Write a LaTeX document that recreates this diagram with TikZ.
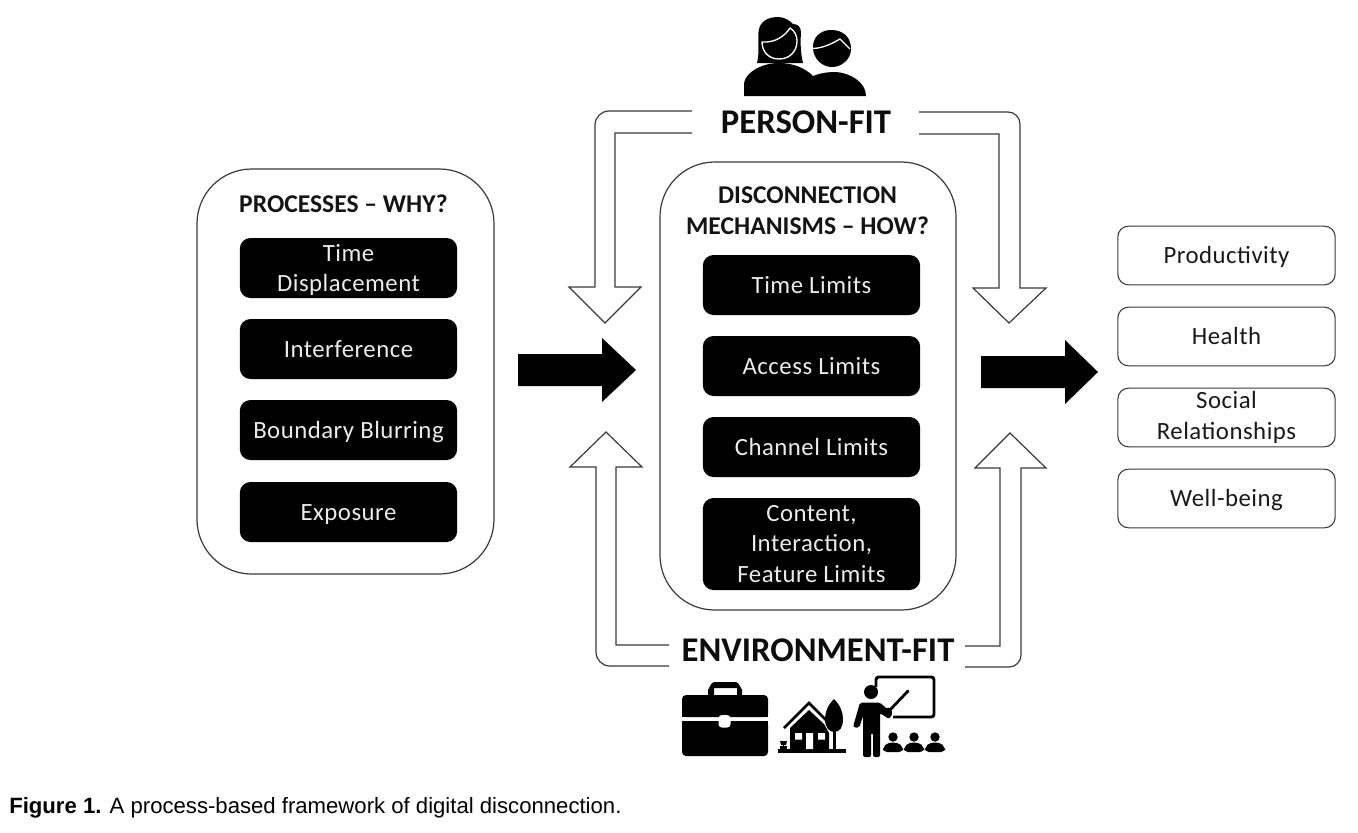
\documentclass[tikz,border=0pt]{standalone}
\usepackage{fontspec}
\setmainfont{Carlito}
\newfontfamily\capfont{Liberation Sans}
\definecolor{thinline}{HTML}{3A3A3A}
\tikzset{
  x=0.75pt,y=-0.75pt,
  panel/.style={draw=thinline,line width=0.9pt,fill=white,rounded corners=41pt},
  blackbox/.style={draw=none,fill=black,rounded corners=8pt,text=white!92!black,align=center,inner sep=0pt,
    font=\fontsize{18.6pt}{23pt}\selectfont\addfontfeature{LetterSpace=2}},
  outbox/.style={draw=thinline,line width=0.8pt,fill=white,rounded corners=8pt,text=black!90,align=center,inner sep=0pt,
    font=\fontsize{18.6pt}{23pt}\selectfont\addfontfeature{LetterSpace=2}},
  oneline/.style={text height=12.5pt,text depth=0pt},
  paneltitle/.style={font=\bfseries\fontsize{19.2pt}{23pt}\selectfont,align=center,inner sep=0pt,text=black!92},
  fittitle/.style={font=\bfseries\fontsize{26pt}{28pt}\selectfont,inner sep=0pt,text=black!95},
  hollow/.style={draw=thinline,line width=0.9pt,fill=white,line join=miter},
  solidarrow/.style={fill=black,draw=none},
  icon/.style={fill=black,draw=none},
  iconcut/.style={draw=white,line width=1pt,fill=none,line join=round},
}
\begin{document}
\begin{tikzpicture}
\useasboundingbox (0,0) rectangle (1358,832);
\fill[white] (0,0) rectangle (1358,832);

% panels
\draw[panel] (197,169) rectangle (494,574);
\draw[panel] (660,162) rectangle (956,610);
\node[paneltitle] (ptitle) at (343.5,204) {PROCESSES – WHY?};
\node[paneltitle] (dtitle) at (807.5,211) {DISCONNECTION\\MECHANISMS – HOW?};

% left boxes
\node[blackbox,minimum width=163pt,minimum height=45pt,text depth=0pt] (p1) at (348.5,268) {Time\\Displacement};
\node[blackbox,oneline,minimum width=163pt,minimum height=45pt] (p2) at (348.5,349) {Interference};
\node[blackbox,oneline,minimum width=163pt,minimum height=45pt] (p3) at (348.5,430) {Boundary Blurring};
\node[blackbox,oneline,minimum width=163pt,minimum height=45pt] (p4) at (348.5,512) {Exposure};

% centre boxes
\node[blackbox,oneline,minimum width=163pt,minimum height=45pt] (m1) at (811.5,285) {Time Limits};
\node[blackbox,oneline,minimum width=163pt,minimum height=45pt] (m2) at (811.5,366) {Access Limits};
\node[blackbox,oneline,minimum width=163pt,minimum height=45pt] (m3) at (811.5,447) {Channel Limits};
\node[blackbox,minimum width=163pt,minimum height=69pt] (m4) at (811.5,544) {Content,\\Interaction,\\Feature Limits};

% right boxes
\node[outbox,oneline,minimum width=163pt,minimum height=44pt] (o1) at (1226.5,255.5) {Productivity};
\node[outbox,oneline,minimum width=163pt,minimum height=44pt] (o2) at (1226.5,336.5) {Health};
\node[outbox,minimum width=163pt,minimum height=44pt] (o3) at (1226.5,417.5) {Social\\Relationships};
\node[outbox,oneline,minimum width=163pt,minimum height=44pt] (o4) at (1226.5,498.5) {Well-being};

% fit labels
\node[fittitle] (pf) at (806,122) {PERSON-FIT};
\node[fittitle] (ef) at (818,650) {ENVIRONMENT-FIT};

% solid arrows
\path[solidarrow] (518,354) -- (602,354) -- (602,338) -- (636,370) -- (602,402) -- (602,386) -- (518,386) -- cycle;
\path[solidarrow] (981,356) -- (1065,356) -- (1065,340) -- (1098,372) -- (1065,404) -- (1065,388) -- (981,388) -- cycle;

% hollow arrows
\draw[hollow] (692,111) -- (609,111) to[out=180,in=90] (595,125) -- (595,287) -- (569,287) -- (605,323) -- (641,287) -- (615,287) -- (615,133) -- (692,133);
\draw[hollow] (919,112) -- (1008,112) to[out=0,in=90] (1020,124) -- (1020,288) -- (1046,288) -- (1009,323) -- (973,288) -- (999,288) -- (999,134) -- (919,134);
\draw[hollow] (669,666) -- (610,666) to[out=180,in=-90] (596,652) -- (596,467) -- (570,467) -- (606,432) -- (642,467) -- (616,467) -- (616,645) -- (669,645);
\draw[hollow] (965,667) -- (1009,667) to[out=0,in=-90] (1021,655) -- (1021,468) -- (1046,468) -- (1010,433) -- (975,468) -- (1000,468) -- (1000,646) -- (965,646);

% person icon
\path[icon] (757,63) .. controls (760,52) and (757,38) .. (759,29) .. controls (761,20) and (770,17) .. (778,17) .. controls (785,17) and (790,21) .. (793,24) .. controls (798,24) and (801,27) .. (801,33) .. controls (800,44) and (801,55) .. (803,63) -- cycle;
\path[icon] (744,96) -- (744,83) .. controls (746,72) and (762,63) .. (779,63) .. controls (793,63) and (805,68) .. (813,76) .. controls (820,73) and (828,72) .. (836,72) .. controls (850,73) and (866,82) .. (866,96) -- cycle;
\draw[iconcut] (762,42) .. controls (775,43) and (785,36) .. (790,28) .. controls (795,31) and (797,36) .. (797,41) .. controls (797,52) and (789,59) .. (779,59) .. controls (769,59) and (762,52) .. (762,42) -- cycle;
\path[icon] (813,49) .. controls (812,38) and (820,30) .. (831,30) .. controls (843,30) and (851,37) .. (851,49) .. controls (851,59) and (842,67) .. (832,67) .. controls (822,67) and (814,59) .. (813,49) -- cycle;
\draw[iconcut] (813,48.5) .. controls (824,48) and (833,43) .. (840,39) -- (850,49);

% briefcase icon
\path[icon] (708,696) -- (708,689) to[out=-90,in=180] (714,682) -- (736,682) to[out=0,in=-90] (742,689) -- (742,696) -- (737,696) -- (737,688) -- (714,688) -- (714,696) -- cycle;
\path[icon,rounded corners=3pt] (682,695) rectangle (768,717);
\path[icon,rounded corners=3pt] (682,721) rectangle (768,756);
\path[icon] (682,712) rectangle (768,717);
\path[icon] (682,721) rectangle (768,726);
\path[fill=white,rounded corners=2.5pt] (718.5,715) rectangle (730.5,727.5);

% house icon
\path[icon] (778,749) rectangle (846,753);
\path[icon] (790,749) -- (790,728) -- (809,710) -- (824,724) -- (829,733) -- (829,749) -- cycle;
\draw[black,line width=1.9pt,line join=miter] (784,728) -- (809,703) -- (827,721);
\path[fill=white] (795,733) rectangle (802,739.5) (818,733) rectangle (825,739.5) (806,733) rectangle (813,749);
\path[icon] (834,699) .. controls (828,705) and (825,712) .. (825,719) .. controls (825,727) and (829,732) .. (834,732) .. controls (840,732) and (843,727) .. (843,719) .. controls (843,712) and (840,705) .. (834,699) -- cycle;
\path[icon] (833,730) rectangle (836,750);
\path[icon] (780,741) -- (787,741) -- (786,745) -- (781,745) -- cycle;
\path[icon] (783,745) rectangle (784,749);
\path[icon] (780,746) rectangle (787,749);

% teacher icon
\draw[black,line width=2.2pt,line join=round,rounded corners=2pt] (876,687) -- (876,677) -- (934,677) -- (934,717) -- (893,717);
\path[icon] (871,692) circle[radius=7];
\path[icon,rounded corners=1.5pt] (860,702.5) -- (880,702.5) -- (887,709) -- (889,707) -- (893,713) -- (889,719) -- (880,713) -- (880,757) -- (873,757) -- (873,733) -- (871,733) -- (871,757) -- (863,757) -- (863,716) -- (859,728) -- (853,727) -- cycle;
\draw[black,line width=2.1pt,line cap=round] (888,712) -- (908,691);
\path[icon] (893,737) circle[radius=4.7] (914,737) circle[radius=4.7] (935,737) circle[radius=4.7];
\path[icon,rounded corners=3pt] (883,752) -- (883,747) -- (888,742.5) -- (898,742.5) -- (903,747) -- (903,752) -- cycle;
\path[icon,rounded corners=3pt] (904,752) -- (904,747) -- (909,742.5) -- (919,742.5) -- (924,747) -- (924,752) -- cycle;
\path[icon,rounded corners=3pt] (925,752) -- (925,747) -- (930,742.5) -- (940,742.5) -- (945,747) -- (945,752) -- cycle;

% caption
\node[anchor=west,inner sep=0pt,font=\capfont\fontsize{16.6pt}{18pt}\selectfont] (cap) at (9,807.5) {\textbf{Figure 1.} A process-based framework of digital disconnection.};
\end{tikzpicture}
\end{document}
